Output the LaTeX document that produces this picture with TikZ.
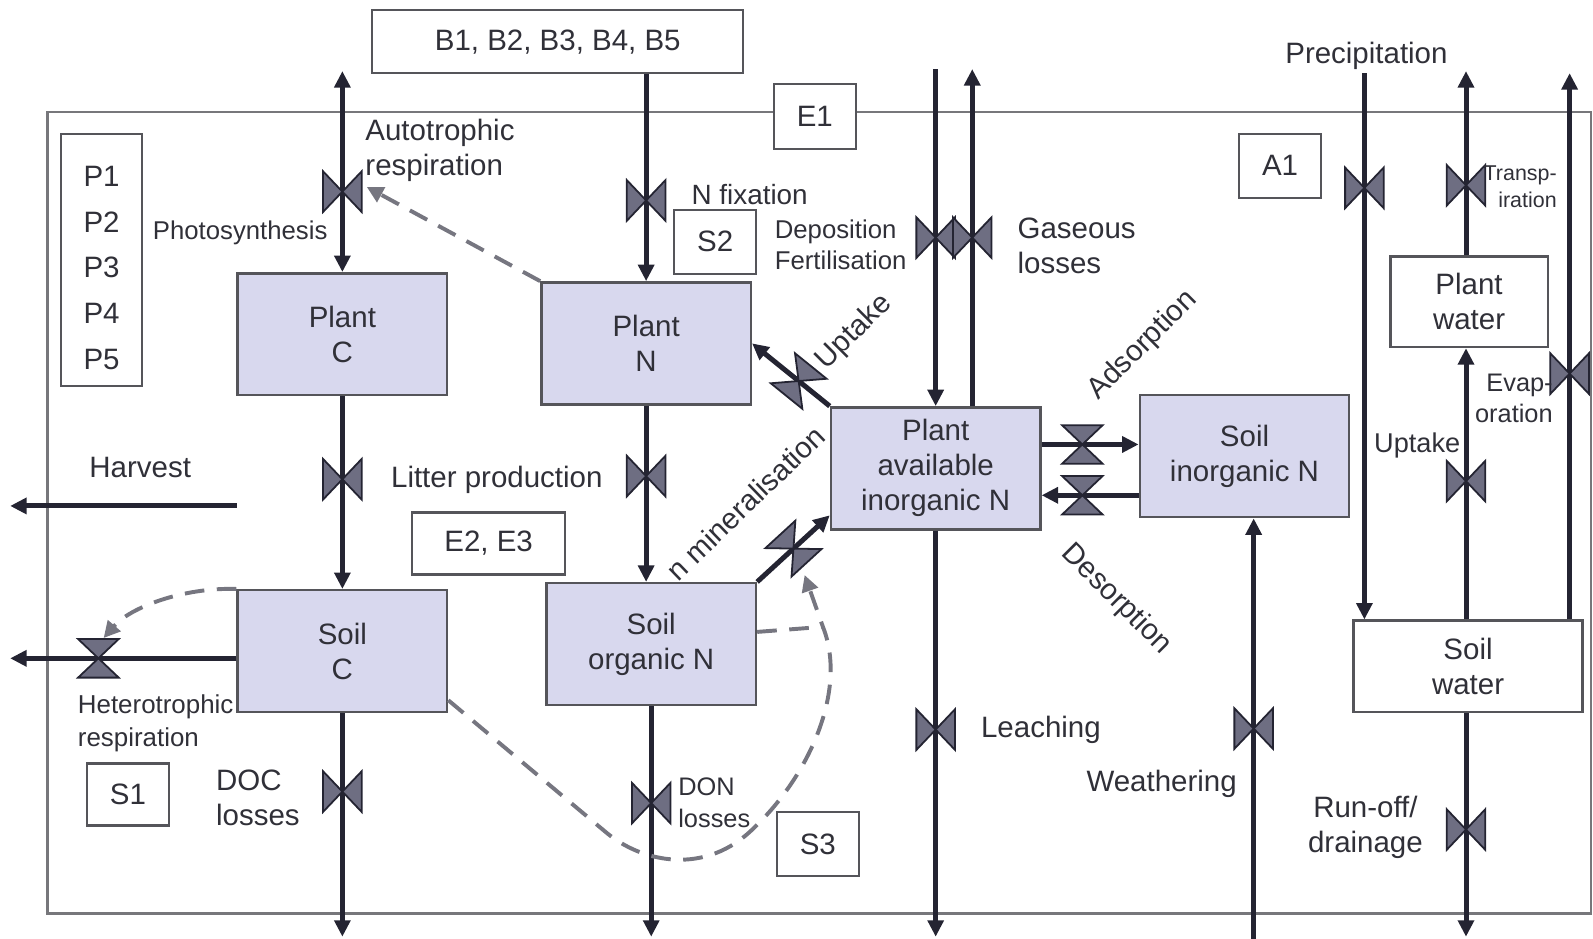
\documentclass[tikz,border=0pt]{standalone}
\usepackage{xcolor}
\usepackage{fontspec}
\setmainfont{Liberation Sans}
\usepackage{tikz}
\usetikzlibrary{shapes.geometric, arrows, arrows.meta, positioning, calc}
\definecolor{poolfill}{RGB}{216,216,238}
\definecolor{boxline}{RGB}{85,85,90}
\definecolor{ink}{RGB}{36,36,50}
\definecolor{valvefill}{RGB}{110,110,130}
\definecolor{dashgray}{RGB}{118,118,128}
\definecolor{textgray}{RGB}{48,48,56}
\tikzstyle{pool} = [rectangle,
minimum width=2.06cm,
minimum height=1.2cm, text centered, align=center,
inner sep=1pt,
font=\fontsize{8.25}{9.8}\selectfont, text=textgray,
draw=boxline, line width=0.7pt, fill=poolfill]
\tikzstyle{waterbox} = [rectangle, text centered, align=center,
inner sep=1pt,
font=\fontsize{8.25}{9.8}\selectfont, text=textgray,
draw=boxline, line width=0.7pt, fill=white]
\tikzstyle{tag} = [rectangle,
minimum width=0.81cm,
minimum height=0.63cm, text centered,
inner sep=1pt,
font=\fontsize{8.25}{9.8}\selectfont, text=textgray,
draw=boxline, line width=0.6pt, fill=white]
\tikzstyle{txt} = [inner sep=0pt, font=\fontsize{8.25}{9.8}\selectfont, text=textgray]
\tikzstyle{flow} = [line width=1.4pt, draw=ink, ->, >={Triangle[length=4.6pt,width=4.4pt]}]
\tikzstyle{feedback} = [line width=1.1pt, draw=dashgray, dash pattern=on 5.5pt off 3.5pt,
->, >={Triangle[length=4.6pt,width=4.6pt]}]
% bow-tie valve, drawn across the flow it sits on
\tikzset{valve/.pic={
\filldraw[-, solid, fill=valvefill, draw=ink, line width=0.5pt] (-20,19) -- (0,0) -- (20,19) -- cycle;
\filldraw[-, solid, fill=valvefill, draw=ink, line width=0.5pt] (-20,-19) -- (0,0) -- (20,-19) -- cycle;
}}

\begin{document}
\begin{tikzpicture}[x=0.01cm, y=-0.01cm]
            \useasboundingbox (0,0) rectangle (1568,924);
            \draw [boxline!80, line width=0.7pt] (47,110) rectangle (1566,899);

            % pools
            \node (plantC) [pool] at (337,329) {Plant\\C};
            \node (plantN) [pool] at (636,338) {Plant\\N};
            \node (soilC) [pool] at (337,641) {Soil\\C};
            \node (soilorgN) [pool] at (641,634) {Soil\\organic N};
            \node (pain) [pool] at (921,461) {Plant\\available\\inorganic N};
            \node (soilinN) [pool] at (1225,449) {Soil\\inorganic N};
            \node (plantW) [waterbox, minimum width=1.55cm, minimum height=0.89cm] at (1446,297) {Plant\\water};
            \node (soilW) [waterbox, minimum width=2.25cm, minimum height=0.9cm] at (1445,656) {Soil\\water};

            % reference boxes
            \node (bbox) [tag, minimum width=3.65cm, minimum height=0.62cm] at (549,41) {B1, B2, B3, B4, B5};
            \node (e1) [tag, minimum height=0.64cm] at (802,115) {E1};
            \node (a1) [tag] at (1260,163) {A1};
            \node (pbox) [tag, align=center, minimum width=0.8cm, minimum height=2.48cm,
                font=\fontsize{8.25}{12.8}\selectfont] at (100,256) {\rule{0pt}{10pt}P1\\P2\\P3\\P4\\P5};
            \node (s2) [tag] at (704,238) {S2};
            \node (e23) [tag, minimum width=1.51cm, minimum height=0.61cm] at (481,535) {E2, E3};
            \node (s1) [tag, minimum width=0.8cm, minimum height=0.61cm] at (126,782) {S1};
            \node (s3) [tag] at (805,831) {S3};

            % free ends
            \coordinate (arTop) at (337,70);
            \coordinate (cBot) at (337,922);
            \coordinate (nBot) at (641,922);
            \coordinate (hvStart) at (233,498);
            \coordinate (hvEnd) at (10,498);
            \coordinate (hrEnd) at (10,648);
            \coordinate (depTop) at (921,68);
            \coordinate (gasTop) at (957,68);
            \coordinate (leachBot) at (921,922);
            \coordinate (wthBot) at (1234,924);
            \coordinate (precTop) at (1343,72);
            \coordinate (trTop) at (1443,70);
            \coordinate (evTop) at (1545,72);
            \coordinate (drainBot) at (1443,922);
            \coordinate (adsL) at ([yshift=0.235cm]pain.east);
            \coordinate (desL) at ([yshift=-0.265cm]pain.east);
            \coordinate (arTip) at (361,184);
            \coordinate (hrTip) at (102,628);
            \coordinate (mnTip) at (792,566);
            \coordinate (mnMeet) at (810,617);

            % carbon
            \draw [flow, <->] (plantC.north) -- (arTop) pic[pos=0.4, sloped]{valve};
            \draw [flow] (plantC.south) -- (soilC.north) pic[pos=0.43, sloped]{valve};
            \draw [flow] (soilC.south) -- (cBot) pic[pos=0.35, sloped]{valve};
            \draw [flow] (hvStart) -- (hvEnd);
            \draw [flow] (soilC.west |- hrEnd) -- (hrEnd) pic[pos=0.61, sloped]{valve};

            % nitrogen
            \draw [flow] (bbox.south -| plantN.north) -- (plantN.north) pic[pos=0.61, sloped]{valve};
            \draw [flow] (plantN.south) -- (plantN.south |- soilorgN.north) pic[pos=0.4, sloped]{valve};
            \draw [flow] (soilorgN.south) -- (nBot) pic[pos=0.42, sloped]{valve};
            \draw [flow] (pain.north west) -- (plantN.east) pic[pos=0.4, sloped]{valve};
            \draw [flow] (soilorgN.north east) -- ([yshift=0.15cm]pain.south west) pic[pos=0.5, sloped]{valve};
            \draw [flow] (depTop) -- (depTop |- pain.north) pic[pos=0.5, sloped]{valve};
            \draw [flow] (gasTop |- pain.north) -- (gasTop) pic[pos=0.5, sloped]{valve};
            \draw [flow] (pain.south) -- (leachBot) pic[pos=0.49, sloped]{valve};
            \draw [flow] (adsL) -- (adsL -| soilinN.west) pic[pos=0.42, sloped]{valve};
            \draw [flow] (desL -| soilinN.west) -- (desL) pic[pos=0.58, sloped]{valve};
            \draw [flow] (wthBot) -- (wthBot |- soilinN.south) pic[pos=0.5, sloped]{valve};

            % water
            \draw [flow] (precTop) -- (precTop |- soilW.north) pic[pos=0.21, sloped]{valve};
            \draw [flow] (trTop |- plantW.north) -- (trTop) pic[pos=0.38, sloped]{valve};
            \draw [flow] (trTop |- soilW.north) -- (trTop |- plantW.south) pic[pos=0.51, sloped]{valve};
            \draw [flow] (evTop |- soilW.north) -- (evTop) pic[pos=0.45, sloped]{valve};
            \draw [flow] (drainBot |- soilW.south) -- (drainBot) pic[pos=0.52, sloped]{valve};

            % feedbacks
            \draw [feedback] (plantN.north west) -- (arTip);
            \draw [feedback] (soilC.north west) .. controls (180,578) and (128,598) .. (hrTip);
            \draw [feedback] ([yshift=0.13cm]soilC.south east) -- (595,818)
                .. controls (632,850) and (695,862) .. (742,815)
                .. controls (795,765) and (835,680) .. (mnMeet) -- (mnTip);
            \draw [feedback, -] ([yshift=0.12cm]soilorgN.east) -- (mnMeet);

            % labels
            \node (lblAuto) [txt, anchor=west, align=left] at (359,148) {Autotrophic\\respiration};
            \node (lblPhoto) [txt, anchor=east, font=\fontsize{7.2}{8.6}\selectfont] at (323,229) {Photosynthesis};
            \node (lblLitter) [txt] at (489,472) {Litter production};
            \node (lblHarvest) [txt] at (138,460) {Harvest};
            \node (lblHetero) [txt, anchor=west, align=left, font=\fontsize{7.25}{9.1}\selectfont] at (76,712) {Heterotrophic\\respiration};
            \node (lblDOC) [txt, anchor=west, align=left] at (212,785) {DOC\\losses};
            \node (lblNfix) [txt, anchor=west, font=\fontsize{7.8}{9.3}\selectfont] at (680,191) {N fixation};
            \node (lblDep) [txt, anchor=west, align=left, font=\fontsize{7.2}{8.8}\selectfont] at (762,241) {Deposition\\Fertilisation};
            \node (lblGas) [txt, anchor=west, align=left] at (1001,242) {Gaseous\\losses};
            \node (lblUptN) [txt, rotate=45] at (841,327) {Uptake};
            \node (lblMin) [txt, rotate=44] at (734,495) {n mineralisation};
            \node (lblAds) [txt, rotate=45] at (1125,340) {Adsorption};
            \node (lblDes) [txt, rotate=-45] at (1099,590) {Desorption};
            \node (lblLeach) [txt, anchor=west] at (965,718) {Leaching};
            \node (lblWth) [txt, anchor=east] at (1218,772) {Weathering};
            \node (lblDON) [txt, anchor=west, align=left, font=\fontsize{7.1}{8.8}\selectfont] at (667,790) {DON\\losses};
            \node (lblPrec) [txt] at (1345,55) {Precipitation};
            \node (lblTransp) [txt, anchor=east, align=right, font=\fontsize{6.0}{7.4}\selectfont] at (1533,184) {Transp-\\iration};
            \node (lblEvap) [txt, anchor=east, align=right, font=\fontsize{7.1}{8.5}\selectfont] at (1529,392) {Evap-\\oration};
            \node (lblUptW) [txt, anchor=east, font=\fontsize{7.6}{9}\selectfont] at (1438,438) {Uptake};
            \node (lblRun) [txt, align=center] at (1344,814) {Run-off/\\drainage};
        \end{tikzpicture}
\end{document}
